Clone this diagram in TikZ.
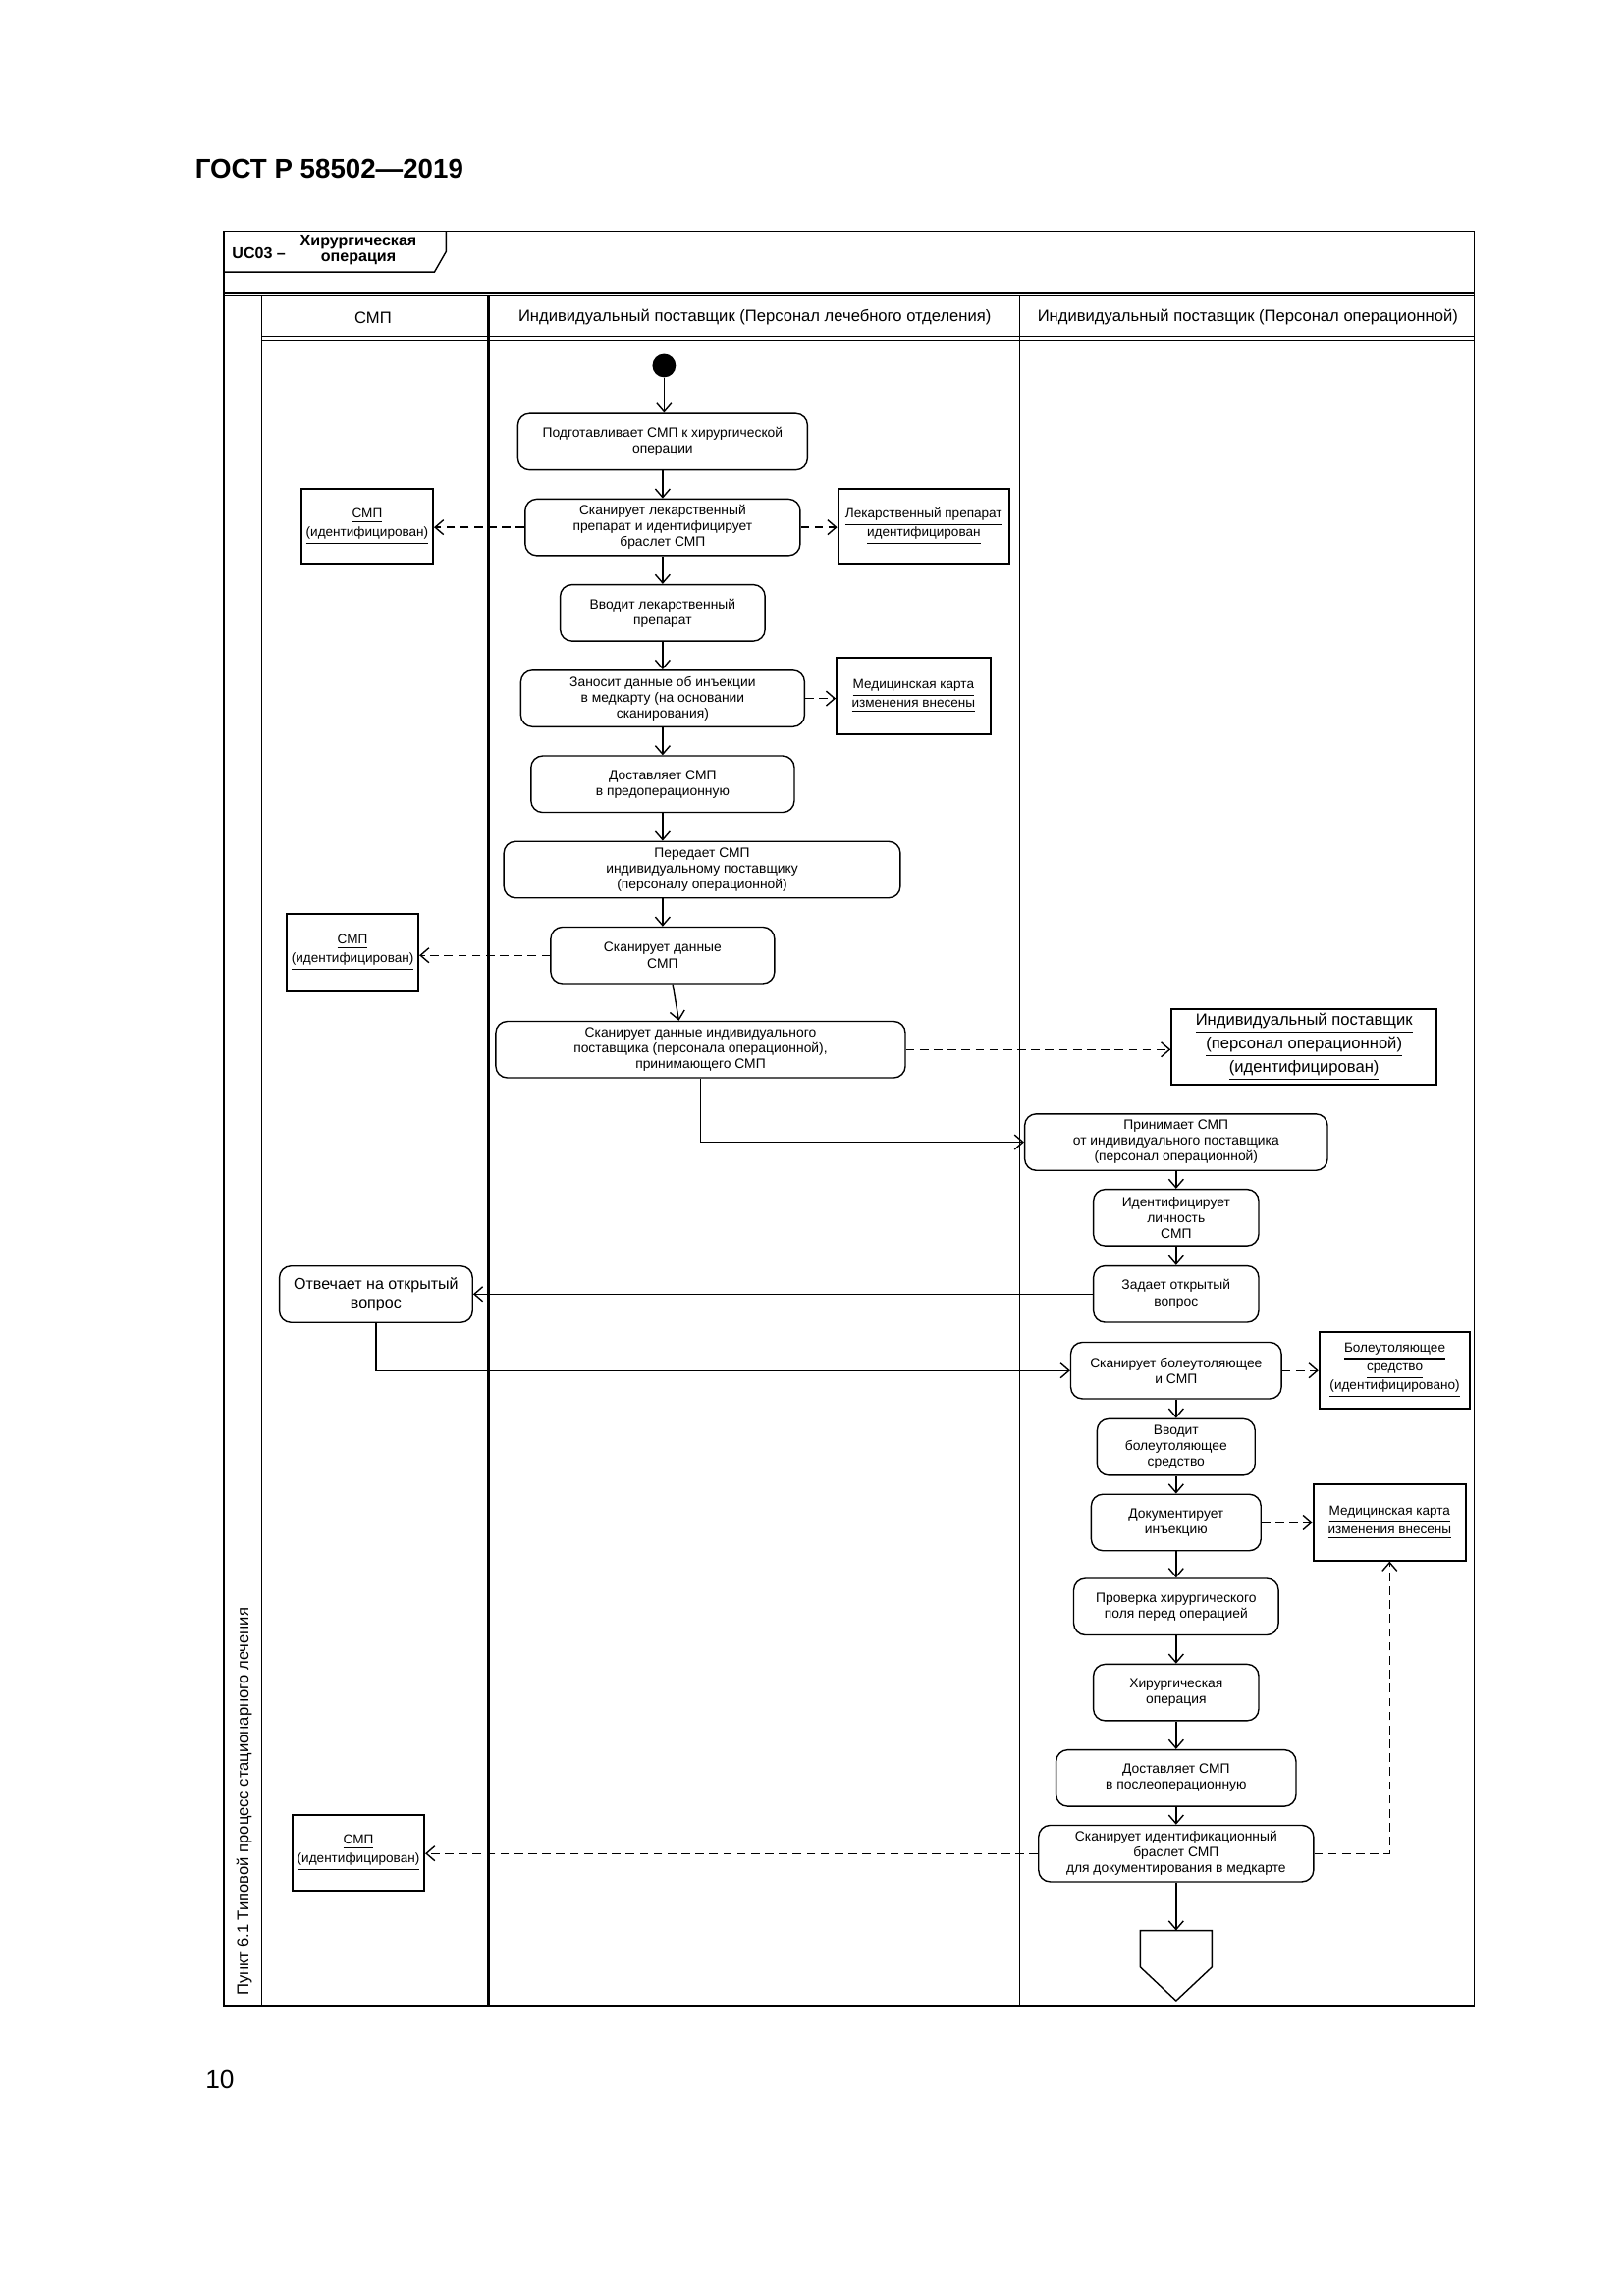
\documentclass[tikz,border=0pt]{standalone}
\usepackage{fontspec}
\setmainfont{Liberation Sans}
\usetikzlibrary{positioning}
\usetikzlibrary{arrows.meta}
\newdimen\pxu \pxu=0.18919mm
\newcommand{\actfont}{\fontsize{5}{5.8}\selectfont}
\newcommand{\objfont}{\fontsize{4.9}{6.9}\selectfont}
\newcommand{\lanefont}{\fontsize{6}{7.2}\selectfont}
\newcommand{\tabfont}{\fontsize{5.8}{5.9}\selectfont\bfseries}
\newcommand{\oname}[1]{\underline{#1}}

\begin{document}
\begin{tikzpicture}[x=0.18919mm,y=-0.18919mm,line width=0.5pt,node distance=3.6mm,
	>={Straight Barb[length=1.1mm,width=1.9mm]},
	actbox/.style={draw,rounded corners=1.5mm,minimum height=7.3mm,minimum width=#1*\pxu,align=center,font=\actfont,inner sep=1pt},
	objbox/.style={draw,line width=0.75pt,minimum height=52*\pxu,minimum width=#1*\pxu,align=center,font=\objfont,inner sep=1pt},
	flow/.style={->},
	dep/.style={->,dash pattern=on 1.1mm off 0.7mm}]
		\useasboundingbox (0,0) rectangle (1110,1570);
		\node[anchor=base west,inner sep=0pt,font=\fontsize{10}{12}\selectfont\bfseries] (gost) at (133,122) {ГОСТ Р 58502—2019};
		\node[anchor=base west,inner sep=0pt,font=\fontsize{9.5}{11}\selectfont] (page) at (140,1428) {10};

		\draw (153,158) rectangle (1008,1372);
		\draw (153,186) -- (297,186) -- (305,172) -- (305,158);
		\node[font=\tabfont] (uc) at (177,173) {UC03 –};
		\node[font=\tabfont,align=center] (ucname) at (245,171) {Хирургическая\\операция};
		\draw (153,200) -- (1008,200) (153,202.5) -- (1008,202.5);
		\draw (179,230) -- (1008,230) (179,232.5) -- (1008,232.5);
		\draw (179,202.5) -- (179,1372);
		\draw[line width=0.9pt] (334,202.5) -- (334,1372);
		\draw (697,202.5) -- (697,1372);
		\node[font=\lanefont] (hsmp) at (255,217) {СМП};
		\node[font=\lanefont] (hward) at (516,217) {Индивидуальный поставщик (Персонал лечебного отделения)};
		\node[font=\lanefont] (hor) at (853,217) {Индивидуальный поставщик (Персонал операционной)};
		\node[rotate=90,anchor=west,inner sep=0pt,font=\lanefont] (pool) at (167,1365) {Пункт 6.1 Типовой процесс стационарного лечения};

		\node[circle,fill,minimum size=16*\pxu,inner sep=0pt] (start) at (454,250) {};
		\node[actbox=198] (prep) at (453,302) {Подготавливает СМП к хирургической\\операции};
		\draw[flow] (start) -- (start |- prep.north);
		\node[actbox=188,below=of prep] (scandrug) {Сканирует лекарственный\\препарат и идентифицирует\\браслет СМП};
		\draw[flow] (prep) -- (scandrug);
		\node[objbox=90] (patid1) at (251,360) {\oname{СМП}\\\oname{(идентифицирован)}};
		\draw[dep] (scandrug.west) -- (scandrug.west -| patid1.east);
		\node[objbox=117] (drugid) at (631.5,360) {\oname{Лекарственный препарат}\\\oname{идентифицирован}};
		\draw[dep] (scandrug.east) -- (scandrug.east -| drugid.west);
		\node[actbox=140,below=of scandrug] (givedrug) {Вводит лекарственный\\препарат};
		\draw[flow] (scandrug) -- (givedrug);
		\node[actbox=194,below=of givedrug] (record) {Заносит данные об инъекции\\в медкарту (на основании\\сканирования)};
		\draw[flow] (givedrug) -- (record);
		\node[objbox=105] (chart1) at (624.5,476) {\oname{Медицинская карта}\\\oname{изменения внесены}};
		\draw[dep] (record.east) -- (record.east -| chart1.west);
		\node[actbox=180,below=of record] (preop) {Доставляет СМП\\в предоперационную};
		\draw[flow] (record) -- (preop);
		\node[actbox=271,below=of preop,xshift=5.1mm] (handover) {Передает СМП\\индивидуальному поставщику\\(персоналу операционной)};
		\draw[flow] (preop.south) -- (preop.south |- handover.north);
		\node[actbox=153,below=of handover,xshift=-5.1mm] (scanpat) {Сканирует данные\\СМП};
		\draw[flow] (scanpat.north |- handover.south) -- (scanpat.north);
		\node[objbox=90,minimum height=53*\pxu] (patid2) at (241,651.5) {\oname{СМП}\\\oname{(идентифицирован)}};
		\draw[dep] (scanpat.west) -- (scanpat.west -| patid2.east);
		\node[actbox=280,below=4.72mm of scanpat,xshift=4.9mm] (scanstaff) {Сканирует данные индивидуального\\поставщика (персонала операционной),\\принимающего СМП};
		\draw[flow] ([xshift=1.3mm]scanpat.south) -- ([xshift=-2.8mm]scanstaff.north);
		\node[objbox=181,font=\fontsize{6}{8.6}\selectfont] (staffid) at (891.5,716) {\oname{Индивидуальный поставщик}\\\oname{(персонал операционной)}\\\oname{(идентифицирован)}};
		\draw[dep] (scanstaff.east) -- (scanstaff.east -| staffid.west);

		\node[actbox=207] (receive) at (804,781) {Принимает СМП\\от индивидуального поставщика\\(персонал операционной)};
		\draw[flow] (scanstaff.south) |- (receive.west);
		\node[actbox=113,below=2.28mm of receive] (ident) {Идентифицирует\\личность\\СМП};
		\draw[flow] (receive) -- (ident);
		\node[actbox=113,below=2.42mm of ident] (ask) {Задает открытый\\вопрос};
		\draw[flow] (ident) -- (ask);
		\node[actbox=132,font=\fontsize{5.8}{6.8}\selectfont] (answer) at (257,885) {Отвечает на открытый\\вопрос};
		\draw[flow] (ask.west) -- (ask.west -| answer.east);
		\node[actbox=144,below=2.42mm of ask] (scanpain) {Сканирует болеутоляющее\\и СМП};
		\draw[flow] (answer.south) |- (scanpain.west);
		\node[objbox=103] (painid) at (953.5,937) {\oname{Болеутоляющее}\\\oname{средство}\\\oname{(идентифицировано)}};
		\draw[dep] (scanpain.east) -- (scanpain.east -| painid.west);
		\node[actbox=108,below=2.42mm of scanpain] (givepain) {Вводит\\болеутоляющее\\средство};
		\draw[flow] (scanpain) -- (givepain);
		\node[actbox=116,below=2.28mm of givepain] (document) {Документирует\\инъекцию};
		\draw[flow] (givepain) -- (document);
		\node[objbox=104] (chart2) at (950,1041) {\oname{Медицинская карта}\\\oname{изменения внесены}};
		\draw[dep] (document.east) -- (document.east -| chart2.west);
		\node[actbox=140,below=3.42mm of document] (check) {Проверка хирургического\\поля перед операцией};
		\draw[flow] (document) -- (check);
		\node[actbox=113,below=3.62mm of check] (surgery) {Хирургическая\\операция};
		\draw[flow] (check) -- (surgery);
		\node[actbox=164,below=3.6mm of surgery] (postop) {Доставляет СМП\\в послеоперационную};
		\draw[flow] (surgery) -- (postop);
		\node[actbox=188,below=2.28mm of postop] (scanband) {Сканирует идентификационный\\браслет СМП\\для документирования в медкарте};
		\draw[flow] (postop) -- (scanband);
		\node[objbox=90] (patid3) at (245,1267) {\oname{СМП}\\\oname{(идентифицирован)}};
		\draw[dep] (scanband.west) -- (scanband.west -| patid3.east);
		\draw[dep] (scanband.east) -| (chart2.south);
		\coordinate (fin) at (804,1320);
		\draw[flow] (scanband.south) -- (fin);
		\draw (fin) -- ++(24.5,0) -- ++(0,25) -- ++(-24.5,23) -- ++(-24.5,-23) -- ++(0,-25) -- cycle;
	\end{tikzpicture}
\end{document}
